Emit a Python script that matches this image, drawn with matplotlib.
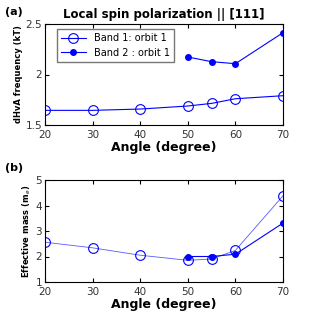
import matplotlib
matplotlib.use('Agg')
import matplotlib.pyplot as plt

# data
angle1 = [20, 30, 40, 50, 55, 60, 70]
freq1 = [1.645, 1.645, 1.658, 1.688, 1.714, 1.76, 1.79]
angle2 = [50, 55, 60, 70]
freq2 = [2.173, 2.127, 2.107, 2.414]
mass1 = [2.56, 2.34, 2.05, 1.85, 1.9, 2.24, 4.38]
mass2 = [2.0, 2.0, 2.09, 3.31]

plt.rcParams['font.family'] = 'DejaVu Sans'
fig = plt.figure(figsize=(3.12, 3.23), dpi=100)

# top panel
ax1 = fig.add_axes([45/312, 1-125/323, 238/312, 101/323])
ax1.plot(angle1, freq1, '-o', color='b', mfc='none', ms=7, lw=0.8, mew=0.8,
         label='Band 1: orbit 1')
ax1.plot(angle2, freq2, '-o', color='b', ms=4, lw=0.8, label='Band 2 : orbit 1')
ax1.set_xlim(20, 70)
ax1.set_ylim(1.5, 2.5)
ax1.set_yticks([1.5, 2, 2.5])
ax1.set_yticklabels(['1.5', '2', '2.5'])
ax1.set_xlabel('Angle (degree)', fontsize=9, fontweight='bold', labelpad=1)
ax1.set_ylabel('dHvA frequency (kT)', fontsize=6, fontweight='bold', labelpad=2)
ax1.set_title('Local spin polarization || [111]', fontsize=8.5, fontweight='bold', pad=4)
ax1.tick_params(labelsize=7.5, direction='in', length=3, pad=2, top=True, right=True,
                labelcolor='#333333')
ax1.tick_params(axis='x', pad=3.5)
ax1.legend(loc='upper left', fontsize=7, frameon=True, fancybox=False,
           edgecolor='#555555', borderpad=0.4, handlelength=2.6, labelspacing=0.5,
           borderaxespad=0, bbox_to_anchor=(0.05, 0.95))

# bottom panel
ax2 = fig.add_axes([45/312, 1-282/323, 238/312, 102/323])
ax2.plot(angle1, mass1, '-o', color='#5a5aff', mec='b', mfc='none', ms=7, lw=0.6, mew=0.8)
ax2.plot(angle2, mass2, '-o', color='b', ms=4, lw=0.8)
ax2.set_xlim(20, 70)
ax2.set_ylim(1, 5)
ax2.set_yticks([1, 2, 3, 4, 5])
ax2.set_xlabel('Angle (degree)', fontsize=9, fontweight='bold', labelpad=1)
ax2.set_ylabel('Effective mass (m$_e$)', fontsize=6, fontweight='bold', labelpad=2)
ax2.tick_params(labelsize=7.5, direction='in', length=3, pad=2, top=True, right=True,
                labelcolor='#333333')
ax2.tick_params(axis='x', pad=3.5)

fig.text(5/312, 1-12/323, '(a)', fontsize=8, fontweight='bold', va='center')
fig.text(5/312, 1-168/323, '(b)', fontsize=8, fontweight='bold', va='center')

fig.savefig('out.png', dpi=100)
